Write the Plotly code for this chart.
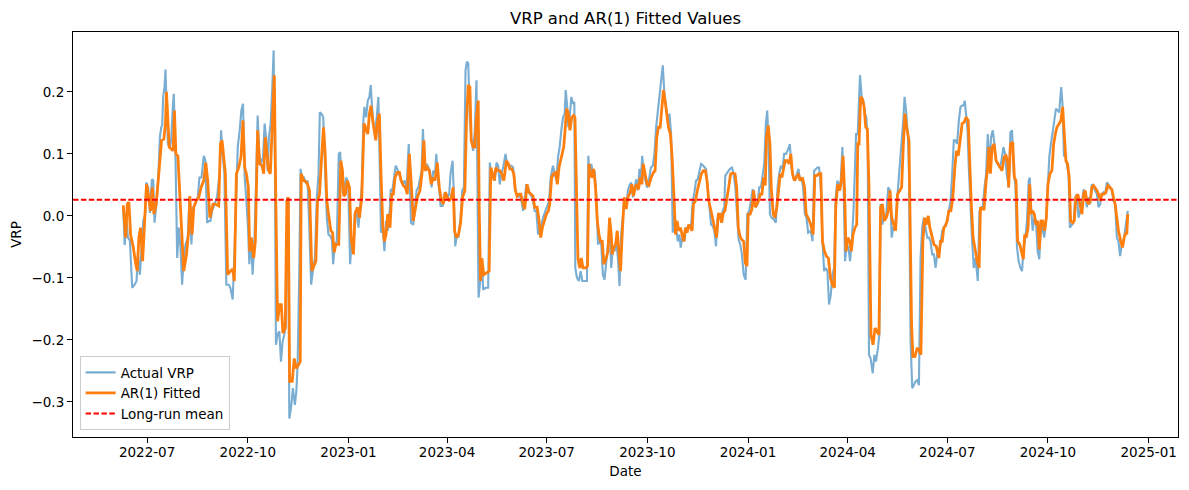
import pandas as pd
import plotly.graph_objects as go

# ---------------- data ----------------
start_date = "2022-06-09"
long_run_mean = 0.026

actual_days = [
    0.2, 1.5, 3.3, 4.5, 6.3, 8.4, 10.6, 12.4, 13.6, 15.4, 16.6, 18.5, 20.3, 21.2, 23.0, 24.5, 26.4, 27.6, 28.8, 30.6,
    32.1, 33.7, 34.9, 35.8, 36.7, 37.9, 38.8, 39.7, 41.0, 42.8, 44.0, 45.5, 46.4, 47.9, 49.5, 51.0, 52.5, 54.0, 55.5, 57.1,
    59.2, 60.7, 62.5, 64.1, 66.2, 68.3, 69.8, 71.7, 73.8, 75.3, 76.8, 78.6,
    79.9, 81.4, 83.5, 85.9, 88.4, 89.6, 90.8, 92.6, 94.4, 96.6, 98.1, 100.2, 102.0, 103.6, 104.8, 106.6, 108.1, 109.6,
    111.2, 112.7, 114.2, 115.4, 117.0, 118.4, 120.0, 121.5, 123.0, 124.5, 126.0, 127.9, 129.4, 130.9, 132.1, 133.3,
    134.9, 136.4, 137.6, 138.8, 139.7, 141.2, 142.8, 144.3, 145.8, 147.3, 148.8, 150.0, 151.0, 151.9, 153.4, 155.2,
    157.0, 158.3, 159.5, 161.0, 162.2, 163.7, 165.2, 167.1, 168.6, 170.1,
    171.9, 173.4, 175.3, 177.1, 178.6, 179.8, 181.3, 182.9, 184.4, 186.2, 187.7, 189.2, 190.8, 192.0, 193.5, 195.3,
    197.1, 198.4, 199.6, 201.1, 202.6, 204.1, 205.7, 207.5, 209.0, 210.5, 212.0, 213.6, 215.1, 216.6, 218.1, 219.6,
    220.5, 222.1, 223.6, 225.1, 226.3, 227.5, 228.8, 230.3, 231.8, 233.3, 234.5, 235.7, 237.3, 238.8, 240.3, 241.8,
    243.3, 244.6, 246.1, 247.6, 249.1, 250.6, 252.2, 253.7, 255.5, 257.3, 259.1, 261.0,
    263.1, 265.2, 266.7, 268.2, 269.8, 271.3, 272.8, 274.0, 275.5, 277.4, 278.9, 280.4, 281.9, 283.4, 285.0, 286.2,
    287.7, 288.9, 290.1, 292.0, 293.5, 295.0, 296.5, 298.0, 299.2, 301.1, 302.0, 303.5, 305.0, 306.5, 308.4, 309.9,
    311.4, 312.9, 314.1, 315.4, 316.9, 318.4, 319.9, 321.4, 322.9, 323.9, 324.8, 326.3, 327.8, 329.0, 331.2, 333.6,
    335.1, 336.6, 338.1, 339.7, 341.2, 342.7, 344.2, 345.7, 347.3, 349.4, 350.9, 352.7,
    354.8, 356.4, 357.9, 359.4, 360.9, 362.4, 364.0, 365.5, 367.0, 368.5, 370.0, 371.6, 373.1, 374.6, 376.1, 377.6,
    379.2, 380.7, 382.2, 383.7, 385.9, 387.4, 389.2, 390.7, 392.8, 394.4, 395.9, 397.4, 398.9, 400.4, 402.0, 403.5,
    404.4, 405.6, 406.8, 408.0, 409.6, 411.1, 412.3, 413.2, 414.7, 416.5, 418.1, 419.6, 421.7, 423.8, 425.1, 426.3,
    427.8, 429.3, 430.8, 432.3, 433.9, 435.4, 436.9, 438.4, 439.9, 441.5, 443.0,
    444.5, 446.0, 447.5, 449.0, 450.6, 452.1, 453.6, 455.1, 456.6, 458.2, 459.7, 461.2, 462.7, 464.2, 465.8, 467.3,
    468.8, 470.3, 471.8, 473.1, 474.3, 475.8, 477.3, 478.8, 480.4, 482.2, 484.0, 485.5, 487.0, 488.6, 490.1, 491.6,
    493.1, 494.6, 496.2, 497.7, 499.2, 500.7, 502.2, 503.8, 505.3, 506.8, 508.3, 509.5, 511.4, 512.9, 514.4, 515.9,
    517.4, 519.0, 520.5, 522.0, 523.5, 525.0, 526.5, 528.1, 530.2, 532.6, 534.1,
    535.7, 537.2, 538.7, 540.2, 541.7, 543.2, 544.8, 546.3, 547.8, 549.3, 550.2, 552.4, 554.5, 556.3, 557.8, 559.4,
    561.2, 562.4, 563.9, 565.4, 567.0, 568.8, 570.3, 572.1, 573.6, 575.2, 576.7, 578.2, 579.7, 581.2, 582.8, 584.3,
    585.8, 587.3, 588.5, 589.7, 591.0, 592.5, 594.3, 596.4, 598.0, 599.5, 601.0, 602.5, 604.0, 605.6, 607.1, 609.2,
    610.7, 612.2, 614.1, 615.6, 617.1, 618.3, 619.8, 621.3, 622.9, 624.4, 625.9,
    628.3, 629.9, 631.4, 632.9, 634.4, 635.9, 637.5, 639.0, 640.5, 642.0, 643.5, 645.0, 646.6, 648.1, 649.6, 651.1,
    652.6, 654.2, 655.7, 657.2, 658.4, 659.6, 661.2, 662.7, 664.2, 665.7, 667.2, 668.7, 669.7, 671.2, 672.4, 673.3,
    674.8, 676.3, 677.9, 679.1, 680.3, 681.5, 683.0, 684.9, 686.4, 687.9, 689.7, 690.9, 692.1, 693.7, 695.2, 697.3,
    699.1, 700.7, 702.2, 703.7, 705.2, 706.7, 708.3, 709.8, 711.3, 712.8, 714.0, 715.6, 717.1,
    718.0, 719.5, 721.0, 722.5, 724.0, 725.6, 727.1, 728.6, 730.1, 731.6, 733.2, 734.7, 736.2, 737.7, 739.2, 740.8,
    742.3, 743.8, 745.3, 746.8, 748.4, 749.9, 751.4, 752.9, 754.4, 756.0, 757.5, 759.0, 760.5, 762.0, 763.6, 765.1,
    766.6, 768.1, 769.0, 770.2, 771.5, 772.7, 774.2, 775.7, 777.2, 778.8, 780.9, 782.4, 783.9, 785.4, 787.0, 788.5,
    790.0, 791.5, 793.0, 794.6, 796.1, 797.6, 799.4, 800.9, 802.5, 804.3, 805.8, 807.3, 809.1,
    810.7, 812.2, 813.7, 815.2, 816.7, 818.2, 819.8, 821.3, 822.8, 824.3, 825.8, 827.4, 828.3, 829.8, 831.0, 832.5,
    834.0, 835.6, 837.1, 838.6, 840.1, 841.6, 843.2, 844.7, 846.2, 847.7, 849.2, 850.8, 852.3, 853.8, 855.3, 856.2,
    857.1, 858.4, 859.6, 861.1, 862.6, 863.8, 865.0, 866.9, 868.4, 869.9, 871.4, 872.9, 874.5, 876.0, 877.5, 879.0,
    880.5, 882.1, 883.6, 885.1, 886.6, 888.1, 889.7, 891.2, 892.7, 894.2, 895.7, 897.3, 898.8, 900.3, 901.8, 903.3,
    904.9, 906.4, 907.9, 909.4, 910.9, 912.5, 914.0, 915.5, 917.0, 917.9,
]

actual_vrp = [
    0.016, -0.047, -0.008, -0.035, -0.040, -0.116, -0.111, -0.105, -0.062, -0.095, -0.062, -0.008, 0.003, 0.054, 0.046, 0.005, 0.059, 0.057, -0.011, 0.019,
    0.057, 0.127, 0.143, 0.146, 0.192, 0.208, 0.236, 0.176, 0.116, 0.111, 0.122, 0.176, 0.197, 0.100, -0.068, -0.019, -0.051, -0.111, -0.068, -0.046,
    -0.035, 0.030, -0.046, 0.014, 0.019, 0.030, 0.062, 0.062, 0.097, 0.089, -0.011, -0.008,
    -0.008, 0.008, 0.019, 0.030, 0.073, 0.138, 0.105, 0.068, -0.111, -0.111, -0.116, -0.135, -0.051, 0.057, 0.111, 0.138, 0.170, 0.181,
    0.062, 0.024, -0.019, -0.078, -0.035, -0.095, -0.041, 0.051, 0.162, 0.100, 0.084, 0.095, 0.149, 0.122, 0.073, 0.127,
    0.149, 0.208, 0.267, 0.078, -0.208, -0.192, -0.186, -0.235, -0.203, -0.192, -0.176, 0.030, 0.024, -0.327, -0.311, -0.278,
    -0.305, -0.284, -0.240, -0.095, 0.076, 0.059, 0.062, 0.054, 0.057, -0.014,
    -0.111, -0.089, -0.068, 0.030, 0.068, 0.167, 0.165, 0.159, 0.068, -0.003, -0.030, -0.032, -0.038, -0.078, -0.046, -0.041,
    0.100, 0.103, 0.057, 0.035, 0.051, 0.062, 0.051, -0.078, -0.035, -0.051, 0.008, 0.003, -0.019, 0.008, 0.046, 0.154,
    0.176, 0.159, 0.186, 0.192, 0.211, 0.176, 0.149, 0.138, 0.159, 0.192, 0.068, -0.027, -0.019, -0.057, -0.008, -0.024,
    -0.003, 0.043, 0.041, 0.062, 0.081, 0.076, 0.068, 0.057, 0.051, 0.057, 0.046, 0.116,
    -0.011, -0.014, 0.019, 0.041, 0.046, 0.057, 0.073, 0.140, 0.073, 0.084, 0.078, 0.073, 0.046, 0.073, 0.068, 0.100,
    0.057, 0.043, 0.016, 0.016, 0.035, 0.038, 0.030, 0.035, 0.068, 0.089, 0.046, -0.049, -0.030, -0.035, -0.003, 0.041,
    0.046, 0.235, 0.249, 0.246, 0.154, 0.122, 0.105, 0.138, 0.219, 0.024, -0.132, -0.105, -0.068, -0.119, -0.116, -0.116,
    0.086, 0.062, 0.070, 0.057, 0.086, 0.081, 0.051, 0.068, 0.078, 0.100, 0.084, 0.081,
    0.081, 0.078, 0.046, 0.035, 0.030, 0.035, 0.024, 0.008, 0.030, 0.051, 0.046, 0.035, 0.032, 0.024, 0.008, 0.008,
    -0.030, -0.019, -0.014, -0.003, 0.008, 0.014, 0.024, 0.062, 0.081, 0.068, 0.057, 0.095, 0.111, 0.138, 0.159, 0.165,
    0.203, 0.181, 0.143, 0.159, 0.192, 0.181, 0.184, -0.084, -0.100, -0.105, -0.089, -0.105, -0.105, -0.105, 0.097, 0.062,
    0.084, 0.068, 0.073, 0.035, -0.046, -0.041, -0.046, -0.095, -0.103, -0.073, -0.041,
    -0.019, -0.084, -0.051, -0.057, -0.041, -0.068, -0.113, -0.030, 0.003, 0.030, 0.014, 0.041, 0.049, 0.054, 0.030, 0.046,
    0.059, 0.041, 0.076, 0.057, 0.097, 0.068, 0.057, 0.046, 0.057, 0.078, 0.081, 0.100, 0.143, 0.170, 0.197, 0.224,
    0.243, 0.197, 0.170, 0.154, 0.165, 0.132, -0.027, 0.003, -0.019, -0.041, -0.030, -0.051, -0.030, -0.041, -0.019, -0.019,
    -0.019, -0.014, 0.024, 0.038, 0.057, 0.059, 0.073, 0.084, 0.081, 0.076, 0.046,
    0.014, -0.014, -0.016, -0.024, -0.049, -0.003, 0.003, -0.008, 0.008, 0.014, 0.065, 0.070, 0.076, 0.078, 0.068, 0.046,
    -0.008, -0.038, -0.046, -0.062, -0.095, -0.103, 0.003, 0.008, 0.024, 0.043, 0.035, 0.014, 0.019, 0.046, 0.046, 0.068,
    0.084, 0.149, 0.170, 0.122, 0.003, -0.003, -0.005, -0.011, 0.046, 0.068, 0.081, 0.076, 0.100, 0.100, 0.105, 0.116,
    0.078, 0.062, 0.057, 0.068, 0.076, 0.057, 0.062, 0.046, 0.003, -0.003, -0.027,
    -0.024, -0.041, 0.073, 0.076, 0.078, 0.078, 0.046, -0.041, -0.089, -0.084, -0.089, -0.143, -0.127, -0.095, -0.084, 0.030,
    0.057, 0.046, 0.057, 0.111, 0.041, -0.073, -0.046, -0.051, -0.073, -0.041, 0.003, 0.078, 0.132, 0.132, 0.197, 0.227,
    0.192, 0.186, 0.165, 0.159, 0.116, -0.224, -0.230, -0.254, -0.224, -0.235, -0.213, -0.192, 0.019, -0.014, -0.003, 0.003,
    0.046, 0.041, -0.035, -0.019, -0.019, 0.014, 0.051, 0.078, 0.111, 0.154, 0.192, 0.165, 0.127,
    0.068, -0.203, -0.278, -0.273, -0.267, -0.265, -0.273, -0.068, -0.019, -0.003, -0.019, -0.035, -0.035, -0.041, -0.062, -0.062,
    -0.084, -0.062, -0.057, -0.046, -0.024, -0.019, -0.014, -0.008, 0.008, 0.024, 0.068, 0.122, 0.122, 0.116, 0.154, 0.176,
    0.178, 0.178, 0.186, 0.167, 0.138, 0.078, 0.014, -0.041, -0.084, -0.068, -0.105, 0.008, 0.014, 0.014, 0.046, 0.068,
    0.132, 0.078, 0.127, 0.138, 0.116, 0.089, 0.084, 0.078, 0.089, 0.111, 0.100, 0.068, 0.046,
    0.135, 0.138, 0.068, 0.051, -0.051, -0.073, -0.084, -0.089, -0.051, -0.035, -0.008, 0.057, 0.062, 0.008, -0.024, -0.003,
    -0.008, -0.057, -0.070, -0.008, -0.019, -0.035, -0.008, 0.051, 0.095, 0.116, 0.132, 0.154, 0.173, 0.170, 0.167, 0.189,
    0.208, 0.176, 0.097, 0.095, 0.078, 0.068, -0.019, -0.014, -0.011, 0.030, 0.035, -0.003, 0.008, 0.019, 0.043, 0.035,
    0.014, 0.030, 0.019, 0.051, 0.046, 0.041, 0.035, 0.014, 0.019, 0.035, 0.038, 0.035, 0.054, 0.051, 0.046, 0.041,
    0.024, 0.019, -0.035, -0.041, -0.065, -0.046, -0.041, -0.024, -0.008, 0.008,
]

fitted_days = [
    0.2, 2.4, 3.9, 5.4, 6.9, 9.4, 11.5, 13.0, 14.5, 16.0, 17.9, 20.0, 21.5, 23.0, 25.2, 26.7, 28.2, 30.3, 32.1, 33.7,
    35.2, 37.3, 38.8, 39.7, 41.0, 42.2, 44.0, 45.8, 47.0, 48.3, 50.1, 52.5, 53.7, 55.5, 58.0, 60.1, 61.0, 63.1, 64.7, 66.8,
    69.2, 71.3, 73.8, 75.6, 77.4, 79.3,
    82.3, 84.4, 87.4, 89.0, 90.5, 92.0, 93.5, 95.6, 98.1, 100.2, 101.7, 103.6, 105.7, 107.8, 109.6, 111.2, 112.7, 114.5,
    115.7, 117.2, 119.4, 120.9, 123.0, 124.8, 127.0, 128.5, 130.0, 131.5, 133.0, 134.6, 136.4, 138.2, 139.7, 141.2, 143.1,
    144.6, 146.1, 148.2, 149.7, 151.0, 152.2, 154.6, 156.4, 158.3, 160.4, 161.9, 162.8, 165.0, 168.0, 170.4,
    172.5, 174.7, 176.2, 177.7, 179.5, 181.6, 183.2, 184.7, 186.2, 187.7, 189.9, 191.4, 192.9, 194.4, 197.1, 199.0, 200.5,
    201.7, 203.2, 205.0, 206.9, 208.4, 210.5, 212.0, 214.2, 216.0, 218.1, 220.2, 222.1, 223.6, 225.1, 226.6, 228.1, 229.7,
    230.9, 232.7, 234.2, 235.7, 237.3, 238.8, 240.3, 241.8, 243.9, 245.5, 247.0, 248.5, 250.6, 252.5, 254.0, 256.1, 257.9,
    259.7, 261.6,
    263.7, 265.2, 266.7, 268.9, 271.3, 273.1, 274.9, 276.1, 278.0, 279.8, 281.6, 283.4, 285.0, 287.1, 288.9, 291.0, 292.6,
    294.4, 296.2, 298.0, 299.9, 301.7, 302.9, 304.7, 306.5, 308.4, 310.2, 312.3, 313.8, 315.4, 316.9, 318.1, 319.9, 321.4,
    322.9, 324.5, 325.4, 326.6, 327.8, 329.6, 332.1, 334.5, 336.0, 337.5, 339.1, 340.6, 342.4, 344.2, 346.1, 347.9, 350.3,
    352.1,
    353.3, 355.2, 357.0, 358.5, 360.0, 361.8, 363.4, 364.9, 367.0, 369.1, 370.9, 372.8, 374.6, 376.1, 378.3, 380.1, 381.6,
    383.1, 384.9, 386.8, 388.6, 389.8, 391.6, 393.4, 395.3, 396.8, 398.3, 400.4, 402.6, 403.8, 405.3, 406.8, 408.3, 409.9,
    411.7, 412.9, 414.1, 415.6, 417.2, 418.7, 420.2, 422.6, 424.4, 425.7, 427.2, 428.7, 429.9, 431.7, 433.3, 434.8, 436.3,
    437.8, 439.3, 441.5, 443.0,
    444.5, 446.0, 446.9, 448.4, 450.0, 451.5, 453.0, 454.5, 456.0, 457.9, 459.7, 461.2, 463.3, 464.9, 466.4, 467.9, 469.4,
    470.9, 472.5, 474.0, 475.2, 477.0, 478.8, 480.4, 482.5, 484.6, 486.1, 487.6, 489.2, 490.7, 492.2, 493.7, 495.2, 496.8,
    498.3, 500.1, 501.6, 503.1, 504.7, 506.2, 507.7, 509.2, 510.7, 512.3, 513.8, 515.3, 516.8, 518.3, 519.9, 521.1, 522.9,
    524.7, 526.5, 528.4, 530.2, 532.0, 533.5, 535.1,
    537.2, 539.3, 540.8, 542.3, 543.9, 545.4, 546.9, 548.4, 549.9, 551.5, 553.3, 555.1, 556.9, 559.1, 560.6, 562.1, 563.6,
    565.1, 567.0, 568.5, 570.0, 571.2, 573.0, 574.5, 576.1, 577.6, 579.1, 580.6, 582.1, 583.7, 585.2, 586.7, 587.9, 589.4,
    591.0, 592.2, 594.0, 595.5, 597.3, 598.9, 600.4, 601.9, 603.4, 604.9, 606.8, 608.6, 610.1, 611.6, 613.4, 615.3, 617.1,
    618.6, 620.7, 622.6, 624.1, 625.9,
    628.3, 630.5, 632.0, 633.8, 635.9, 637.5, 639.0, 640.8, 642.6, 644.4, 646.3, 648.1, 649.9, 651.1, 652.9, 654.8, 656.3,
    657.8, 659.3, 660.5, 662.1, 663.9, 665.4, 666.9, 668.7, 670.3, 671.2, 672.4, 673.9, 675.4, 677.0, 678.5, 680.0, 681.5,
    683.3, 685.2, 687.0, 688.8, 690.6, 692.1, 693.7, 695.5, 697.3, 699.1, 700.7, 702.2, 704.0, 705.8, 707.6, 709.5, 711.3,
    712.8, 714.3, 715.9, 718.0,
    720.4, 721.6, 723.4, 725.6, 727.1, 728.9, 730.7, 732.3, 733.8, 735.6, 737.1, 739.2, 740.8, 742.9, 745.3, 746.8, 748.4,
    749.9, 751.4, 752.9, 754.4, 756.3, 758.1, 759.9, 761.4, 763.0, 764.5, 766.6, 768.4, 770.2, 772.1, 773.6, 775.1, 776.6,
    778.1, 780.3, 782.1, 783.3, 784.8, 786.6, 788.5, 790.0, 790.9, 792.4, 794.0, 795.8, 797.6, 799.4, 801.5, 803.1, 804.9,
    806.7, 808.5,
    809.1, 810.7, 812.8, 814.3, 815.8, 817.3, 819.2, 820.7, 822.5, 823.7, 825.2, 826.8, 828.3, 829.5, 831.0, 832.5, 834.0,
    835.6, 837.1, 838.6, 840.1, 841.9, 843.5, 845.0, 846.8, 848.6, 850.2, 851.7, 853.2, 855.3, 856.8, 858.4, 859.9, 861.4,
    862.9, 864.4, 865.7, 867.5, 869.0, 870.5, 872.3, 873.9, 876.0, 877.5, 879.0, 880.5, 882.1, 883.6, 885.1, 886.6, 888.1,
    889.7, 891.2, 892.7, 894.2, 896.0, 897.9, 899.7, 901.5, 903.3, 904.9, 906.4, 907.9, 909.4, 911.5, 913.1, 914.6, 916.1,
    917.0, 917.9,
]

fitted_vrp = [
    0.017, -0.035, 0.019, 0.022, -0.030, -0.051, -0.076, -0.089, -0.035, -0.019, -0.073, -0.003, 0.051, 0.035, 0.008, 0.046, 0.003, 0.019, 0.051, 0.089,
    0.122, 0.124, 0.149, 0.200, 0.154, 0.111, 0.108, 0.105, 0.170, 0.100, 0.097, 0.019, -0.035, -0.089, -0.062, -0.022, 0.032, -0.030, 0.014, 0.024,
    0.030, 0.046, 0.057, 0.086, 0.057, -0.003,
    0.019, 0.019, 0.016, 0.116, 0.122, 0.100, 0.068, -0.095, -0.089, -0.086, -0.105, 0.068, 0.078, 0.095, 0.154, 0.078, 0.068, 0.046,
    -0.057, -0.035, -0.068, -0.041, 0.138, 0.084, 0.081, 0.068, 0.127, 0.100, 0.073, 0.068, 0.143, 0.227, 0.014, -0.170, -0.143,
    -0.143, -0.189, -0.181, 0.024, 0.030, -0.267, -0.267, -0.230, -0.246, -0.240, -0.235, 0.068, 0.057, 0.054, 0.041,
    -0.089, -0.078, -0.073, 0.024, 0.035, 0.100, 0.143, 0.100, 0.024, 0.003, -0.024, -0.027, -0.059, -0.046, -0.046, 0.089, 0.073,
    0.032, 0.035, 0.057, 0.046, -0.035, -0.062, 0.003, 0.014, -0.003, 0.030, 0.149, 0.138, 0.132, 0.165, 0.178, 0.154, 0.138,
    0.122, 0.154, 0.165, 0.068, -0.014, -0.041, -0.030, 0.003, -0.019, 0.035, 0.035, 0.062, 0.070, 0.070, 0.057, 0.049, 0.046,
    0.035, 0.100,
    0.041, -0.008, 0.008, 0.030, 0.041, 0.068, 0.122, 0.073, 0.078, 0.073, 0.051, 0.062, 0.057, 0.086, 0.046, 0.024, 0.019,
    0.038, 0.030, 0.024, 0.030, 0.046, -0.024, -0.035, -0.030, -0.011, 0.030, 0.041, 0.154, 0.211, 0.208, 0.122, 0.111, 0.111,
    0.159, 0.186, 0.014, -0.105, -0.068, -0.095, -0.092, -0.089, 0.078, 0.068, 0.057, 0.078, 0.073, 0.073, 0.068, 0.057, 0.089,
    0.084,
    0.076, 0.076, 0.068, 0.041, 0.032, 0.035, 0.035, 0.024, 0.011, 0.051, 0.038, 0.035, 0.032, 0.014, 0.014, -0.008, -0.035,
    -0.019, -0.008, 0.003, 0.008, 0.019, 0.062, 0.068, 0.070, 0.051, 0.078, 0.095, 0.111, 0.138, 0.173, 0.165, 0.138, 0.159,
    0.162, 0.159, 0.041, -0.068, -0.084, -0.068, -0.084, -0.084, -0.081, 0.084, 0.068, 0.062, 0.076, 0.046, -0.008, -0.030, -0.041,
    -0.041, -0.078, -0.068, -0.057,
    -0.003, -0.030, -0.062, -0.051, -0.046, -0.024, -0.057, -0.089, -0.030, 0.030, 0.011, 0.030, 0.038, 0.051, 0.032, 0.046, 0.051,
    0.043, 0.062, 0.051, 0.084, 0.068, 0.051, 0.049, 0.062, 0.070, 0.073, 0.127, 0.143, 0.143, 0.170, 0.203, 0.186, 0.159,
    0.143, 0.132, 0.095, 0.041, -0.030, -0.008, -0.024, -0.019, -0.030, -0.041, -0.019, -0.027, -0.014, -0.019, -0.024, 0.019, 0.024,
    0.041, 0.057, 0.068, 0.073, 0.073, 0.057, 0.024,
    0.008, -0.008, -0.019, -0.035, 0.003, 0.003, -0.011, 0.005, 0.008, 0.030, 0.046, 0.068, 0.069, 0.068, 0.046, -0.019, -0.032,
    -0.038, -0.041, -0.076, -0.081, 0.003, 0.003, 0.011, 0.041, 0.014, 0.019, 0.024, 0.035, 0.035, 0.062, 0.049, 0.127, 0.146,
    0.116, 0.046, 0.003, -0.003, 0.014, 0.046, 0.068, 0.062, 0.073, 0.089, 0.089, 0.084, 0.100, 0.068, 0.057, 0.062, 0.068,
    0.057, 0.062, 0.046, 0.003, -0.003,
    -0.014, -0.030, 0.065, 0.065, 0.068, 0.068, -0.041, -0.057, -0.065, -0.068, -0.100, -0.111, -0.116, 0.014, 0.051, 0.041, 0.057,
    0.097, 0.035, -0.057, -0.035, -0.041, -0.057, -0.030, -0.019, -0.014, 0.116, 0.116, 0.192, 0.189, 0.176, 0.143, 0.140, 0.046,
    -0.192, -0.208, -0.181, -0.186, -0.192, 0.014, 0.019, -0.008, -0.003, 0.008, 0.041, -0.003, -0.014, -0.024, 0.035, 0.041, 0.046,
    0.111, 0.165, 0.143, 0.122,
    -0.176, -0.227, -0.227, -0.213, -0.216, -0.224, -0.041, -0.003, -0.014, 0.000, -0.019, -0.035, -0.046, -0.049, -0.068, -0.041, -0.041,
    -0.019, -0.016, -0.008, 0.008, 0.008, 0.030, 0.078, 0.105, 0.097, 0.116, 0.149, 0.151, 0.159, 0.154, 0.078, 0.014, -0.035,
    -0.051, -0.073, -0.084, 0.014, 0.011, 0.011, 0.057, 0.078, 0.111, 0.068, 0.111, 0.116, 0.089, 0.084, 0.076, 0.073, 0.095,
    0.097, 0.084,
    0.046, 0.116, 0.119, 0.062, 0.057, -0.041, -0.046, -0.057, -0.070, -0.030, -0.035, -0.019, 0.051, 0.003, 0.008, 0.003, -0.014,
    -0.008, -0.054, -0.008, -0.008, -0.024, -0.003, 0.051, 0.068, 0.073, 0.116, 0.132, 0.143, 0.149, 0.154, 0.176, 0.122, 0.089,
    0.084, 0.062, -0.008, -0.011, -0.008, 0.030, 0.035, 0.019, 0.003, 0.035, 0.041, 0.024, 0.019, 0.024, 0.046, 0.049, 0.046,
    0.041, 0.035, 0.024, 0.035, 0.035, 0.038, 0.049, 0.046, 0.043, 0.030, 0.019, -0.003, -0.024, -0.041, -0.051, -0.035, -0.027,
    -0.030, 0.003,
]

y_tick_values = [-0.3, -0.2, -0.1, 0.0, 0.1, 0.2]
x_tick_dates = ["2022-07-01", "2022-10-01", "2023-01-01", "2023-04-01", "2023-07-01", "2023-10-01",
                "2024-01-01", "2024-04-01", "2024-07-01", "2024-10-01", "2025-01-01"]

# ---------------- build ----------------
base = pd.Timestamp(start_date)
actual_dates = base + pd.to_timedelta(actual_days, unit="D")
fitted_dates = base + pd.to_timedelta(fitted_days, unit="D")

# matplotlib-like 5% autoscale margins
dmin = min(min(actual_days), min(fitted_days))
dmax = max(max(actual_days), max(fitted_days))
dpad = 0.05 * (dmax - dmin)
x_range = [base + pd.Timedelta(days=dmin - dpad), base + pd.Timedelta(days=dmax + dpad)]

vmin = min(min(actual_vrp), min(fitted_vrp), long_run_mean)
vmax = max(max(actual_vrp), max(fitted_vrp), long_run_mean)
vpad = 0.05 * (vmax - vmin)
y_range = [vmin - vpad, vmax + vpad]

FONT = "DejaVu Sans"
# the page body adds an 8px margin, so the figure is 8px smaller on each axis
W, H = 1181, 482

fig = go.Figure()
fig.add_trace(go.Scatter(
    x=actual_dates, y=actual_vrp, mode="lines", name="Actual VRP",
    line=dict(color="rgba(31,119,180,0.6)", width=2.1),
))
fig.add_trace(go.Scatter(
    x=fitted_dates, y=fitted_vrp, mode="lines", name="AR(1) Fitted",
    line=dict(color="#ff7f0e", width=2.8),
))
fig.add_trace(go.Scatter(
    x=x_range, y=[long_run_mean, long_run_mean], mode="lines", name="Long-run mean",
    line=dict(color="#ff0000", width=2.1, dash="5.5px,2.4px"),
))

axis_common = dict(
    showline=True, linecolor="black", linewidth=1.1, mirror=True,
    showgrid=False, zeroline=False, ticks="outside", ticklen=5, tickwidth=1.1,
    tickcolor="black", tickfont=dict(family=FONT, size=13.5, color="black"),
)

fig.update_layout(
    width=W, height=H,
    margin=dict(l=65, r=11, t=24, b=53, autoexpand=False),
    paper_bgcolor="white", plot_bgcolor="white",
    font=dict(family=FONT, size=13.5, color="black"),
    title=dict(text="VRP and AR(1) Fitted Values", x=0.5, xref="paper", xanchor="center",
               y=1 - 10 / H, yanchor="middle", font=dict(family=FONT, size=16.5, color="black")),
    xaxis=dict(range=x_range, tickvals=x_tick_dates, tickformat="%Y-%m", ticklabelstandoff=-2,
               title=dict(text="Date", standoff=7, font=dict(family=FONT, size=13.5)),
               **axis_common),
    yaxis=dict(range=y_range, tickvals=y_tick_values, tickformat=".1f",
               title=dict(text="VRP", standoff=8, font=dict(family=FONT, size=13.5)),
               **axis_common),
    legend=dict(x=0.006, y=0.017, xanchor="left", yanchor="bottom",
                bgcolor="rgba(255,255,255,0.8)", bordercolor="#cccccc", borderwidth=1,
                font=dict(family=FONT, size=13.5, color="black"), itemwidth=30,
                tracegroupgap=0),
    showlegend=True,
)

fig.write_html("out.html")
